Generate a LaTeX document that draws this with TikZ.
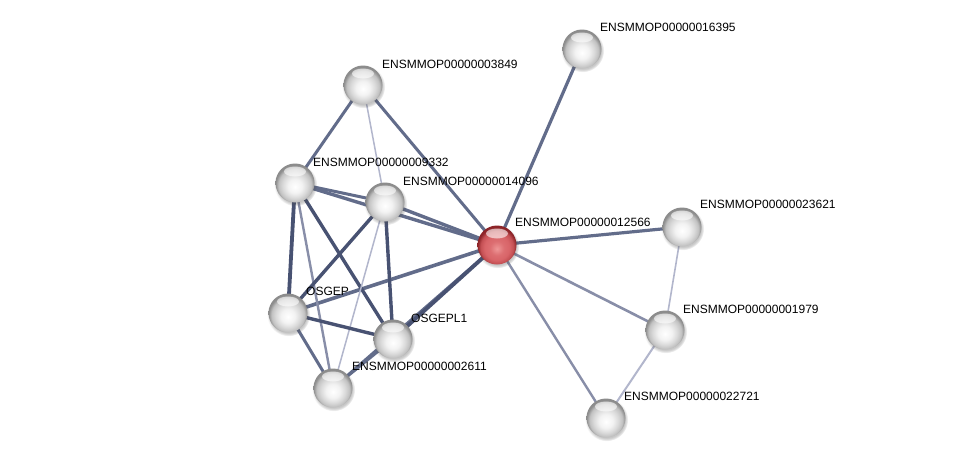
\documentclass[tikz,border=0pt]{standalone}
\usepackage{fontspec}
\setmainfont{Liberation Sans}
\usetikzlibrary{backgrounds,shadows}
\definecolor{eD}{RGB}{72,82,114}
\definecolor{eM}{RGB}{98,108,138}
\definecolor{eL}{RGB}{136,142,168}
\definecolor{eV}{RGB}{178,182,204}
\definecolor{rC}{RGB}{238,150,150}
\definecolor{rM}{RGB}{216,100,104}
\definecolor{rE}{RGB}{196,80,84}
\definecolor{rR}{RGB}{140,36,40}
\pgfdeclareradialshading{graysphere}{\pgfpoint{0bp}{-5bp}}{%
  color(0bp)=(white); color(9bp)=(white!95!black); color(16bp)=(white!85!black);
  color(21bp)=(white!76!black); color(25bp)=(white!55!black); color(50bp)=(white!55!black)}
\pgfdeclareradialshading{redsphere}{\pgfpoint{0bp}{-5bp}}{%
  color(0bp)=(rC); color(9bp)=(rM!80!rC); color(16bp)=(rM);
  color(21bp)=(rE); color(25bp)=(rR); color(50bp)=(rR)}
\begin{document}
\begin{tikzpicture}[x=1pt,y=-1pt,
  ball/.style={circle, minimum size=39pt, inner sep=0pt, shading=graysphere,
    circular drop shadow={shadow xshift=0.6pt, shadow yshift=-1.6pt, opacity=0.3, fill=black!70},
    path picture={\fill[white,opacity=0.6] ([yshift=-8pt]path picture bounding box.north) ellipse [x radius=11pt, y radius=5pt];}},
  redball/.style={ball, shading=redsphere},
  lab/.style={font=\fontsize{12}{14}\selectfont, anchor=west, text=black, inner sep=0pt},
  ed/.style={line width=#1, draw=eD},
  em/.style={line width=#1, draw=eM},
  el/.style={line width=#1, draw=eL},
  ev/.style={line width=#1, draw=eV}
]
\useasboundingbox (0,0) rectangle (975,463);

\node[ball] (n16395) at (582,49) {};
\node[ball] (n3849) at (363,85) {};
\node[ball] (n9332) at (295,183) {};
\node[ball] (n14096) at (385,202) {};
\node[redball] (n12566) at (497,245) {};
\node[ball] (n23621) at (682,227) {};
\node[ball] (osgep) at (288,313) {};
\node[ball] (osgepl) at (393,339) {};
\node[ball] (n1979) at (665,330) {};
\node[ball] (n2611) at (333,388) {};
\node[ball] (n22721) at (606,418) {};

\node[lab] (t16395) at ([shift={(18,-22)}]n16395.center) {ENSMMOP00000016395};
\node[lab] (t3849) at ([shift={(19,-21)}]n3849.center) {ENSMMOP00000003849};
\node[lab] (t9332) at ([shift={(18,-21)}]n9332.center) {ENSMMOP00000009332};
\node[lab] (t14096) at ([shift={(18,-21)}]n14096.center) {ENSMMOP00000014096};
\node[lab] (t12566) at ([shift={(18,-23)}]n12566.center) {ENSMMOP00000012566};
\node[lab] (t23621) at ([shift={(18,-23)}]n23621.center) {ENSMMOP00000023621};
\node[lab] (tosgep) at ([shift={(18,-22)}]osgep.center) {OSGEP};
\node[lab] (tosgepl) at ([shift={(18,-21)}]osgepl.center) {OSGEPL1};
\node[lab] (t1979) at ([shift={(18,-21)}]n1979.center) {ENSMMOP00000001979};
\node[lab] (t2611) at ([shift={(19,-22)}]n2611.center) {ENSMMOP00000002611};
\node[lab] (t22721) at ([shift={(18,-22)}]n22721.center) {ENSMMOP00000022721};

\begin{scope}[on background layer]
\fill[white] (0,0) rectangle (975,463);
\draw[em=3.2] (n12566.center) -- (n16395.center);
\draw[em=3.2] (n12566.center) -- (n23621.center);
\draw[el=2.6] (n12566.center) -- (n1979.center);
\draw[el=2.4] (n12566.center) -- (n22721.center);
\draw[ev=1.6] (n23621.center) -- (n1979.center);
\draw[ev=2.0] (n1979.center) -- (n22721.center);
\draw[em=3.0] (n12566.center) -- (n3849.center);
\draw[em=3.4] (n12566.center) -- (n9332.center);
\draw[em=3.4] (n12566.center) -- (n14096.center);
\draw[em=3.6] (n12566.center) -- (osgep.center);
\draw[em=2.8] (n12566.center) -- (n2611.center);
\draw[ed=3.8] (n12566.center) -- (osgepl.center);
\draw[em=3.0] (n3849.center) -- (n9332.center);
\draw[ev=1.5] (n3849.center) -- (n14096.center);
\draw[em=3.0] (n9332.center) -- (n14096.center);
\draw[ed=3.8] (n9332.center) -- (osgep.center);
\draw[el=2.4] (n9332.center) -- (n2611.center);
\draw[ed=3.4] (n9332.center) -- (osgepl.center);
\draw[ed=3.4] (n14096.center) -- (osgep.center);
\draw[ed=3.4] (n14096.center) -- (osgepl.center);
\draw[ev=1.5] (n14096.center) -- (n2611.center);
\draw[ed=3.4] (osgep.center) -- (osgepl.center);
\draw[em=3.0] (osgep.center) -- (n2611.center);
\draw[em=3.0] (osgepl.center) -- (n2611.center);
\end{scope}
\end{tikzpicture}
\end{document}
